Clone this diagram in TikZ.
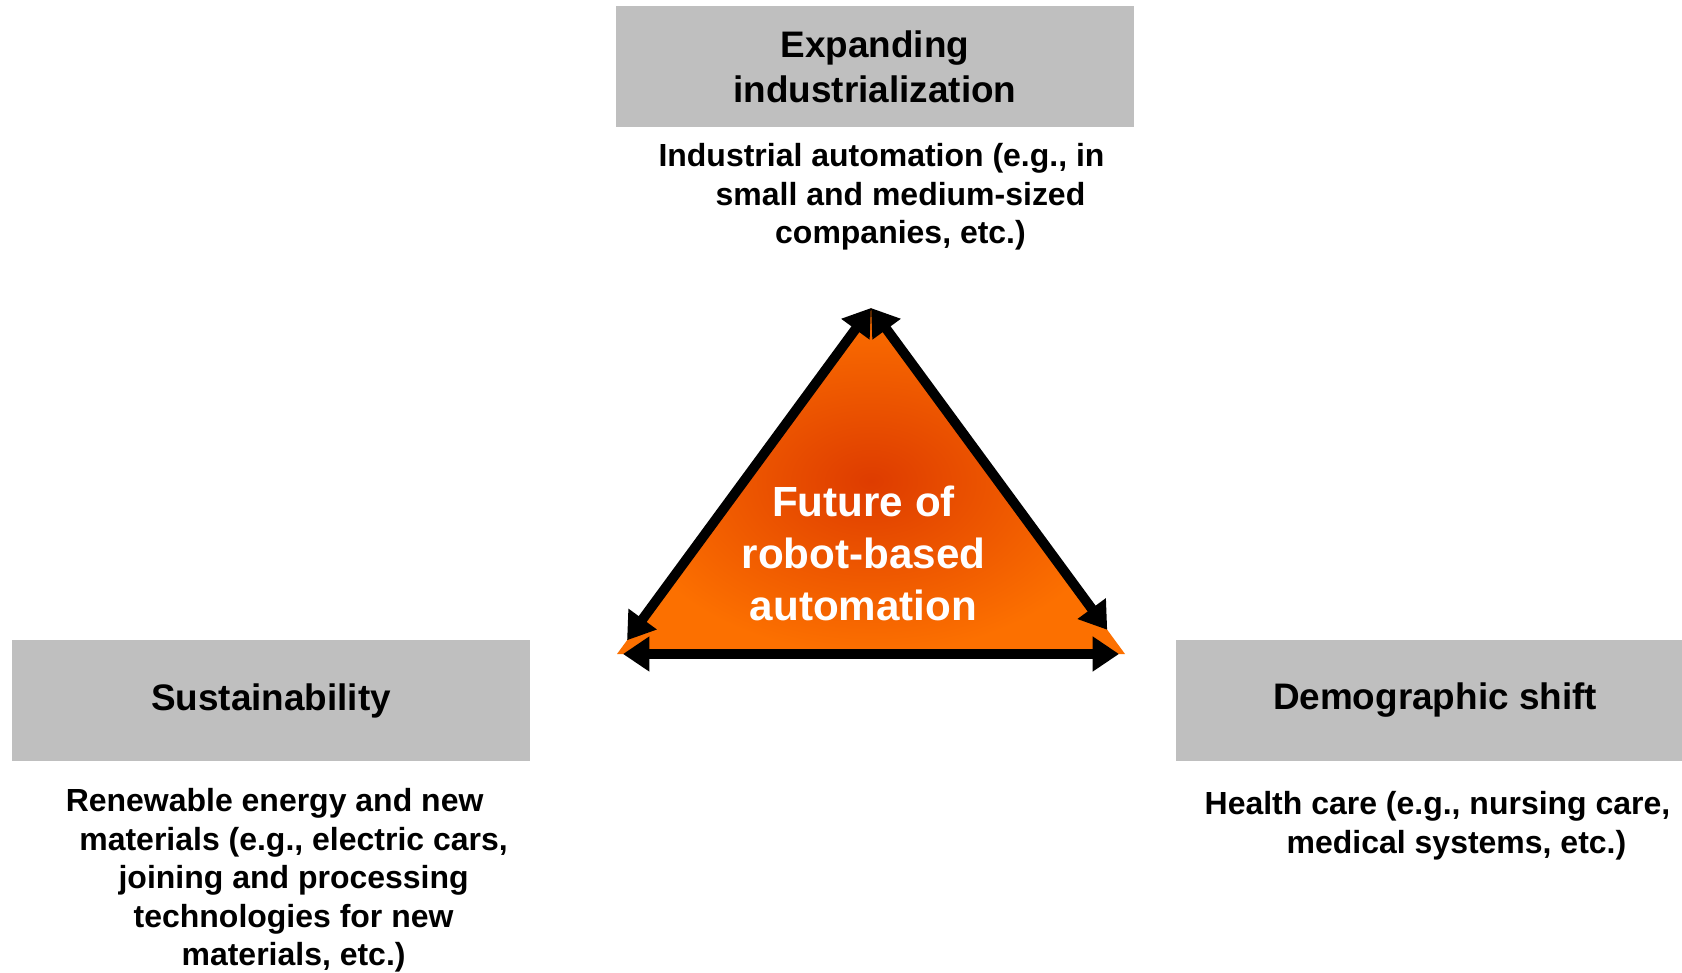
\documentclass[tikz,border=0pt]{standalone}
\usepackage{fontspec}
\setmainfont{Liberation Sans}
\usetikzlibrary{arrows.meta}
\definecolor{boxgray}{RGB}{191,191,191}
\definecolor{orrim}{RGB}{252,112,0}
\definecolor{orcore}{RGB}{222,60,0}
\newcommand{\ind}{\hspace*{0.38cm}}

\begin{document}
\begin{tikzpicture}[
  title/.style={fill=boxgray, minimum width=5.18cm, minimum height=1.21cm, inner sep=0pt, align=center, font=\bfseries\fontsize{10.5}{12.8}\selectfont},
  body/.style={align=center, inner sep=0pt, font=\bfseries\fontsize{9.1}{10.95}\selectfont},
  twoway/.style={line width=2.8pt, {Triangle[length=7.5pt,width=9.5pt]}-{Triangle[length=7.5pt,width=9.5pt]}}]
\path[use as bounding box] (0,0) rectangle (16.82,9.72);

\node[title] (exp) at (8.75,9.055) {Expanding\\industrialization};
\node[title] (sus) at (2.71,2.715) {Sustainability};
\node[title] (dem) at (14.35,2.715) {Demographic shift};

\node[body] (expt) at (8.815,7.75) {Industrial automation (e.g., in\\\ind small and medium-sized\\\ind companies, etc.)};
\node[body] (sust) at (2.746,0.915) {Renewable energy and new\\\ind materials (e.g., electric cars,\\\ind joining and processing\\\ind technologies for new\\\ind materials, etc.)};
\node[body] (demt) at (14.375,1.465) {Health care (e.g., nursing care,\\\ind medical systems, etc.)};

\coordinate (apex) at (8.71,6.64);
\coordinate (bl) at (6.17,3.18);
\coordinate (br) at (11.25,3.18);
\shade[inner color=orcore, outer color=orrim] (apex) -- (bl) -- (br) -- cycle;

\node[text=white, align=center, font=\bfseries\fontsize{12}{14.7}\selectfont] (fut) at (8.635,4.185) {Future of\\robot-based\\automation};

\draw[twoway, shorten >=0.17cm] (apex) -- (bl);
\draw[twoway, shorten >=0.3cm] (apex) -- (br);
\draw[twoway, shorten <=0.06cm, shorten >=0.06cm] (bl) -- (br);
\end{tikzpicture}
\end{document}
